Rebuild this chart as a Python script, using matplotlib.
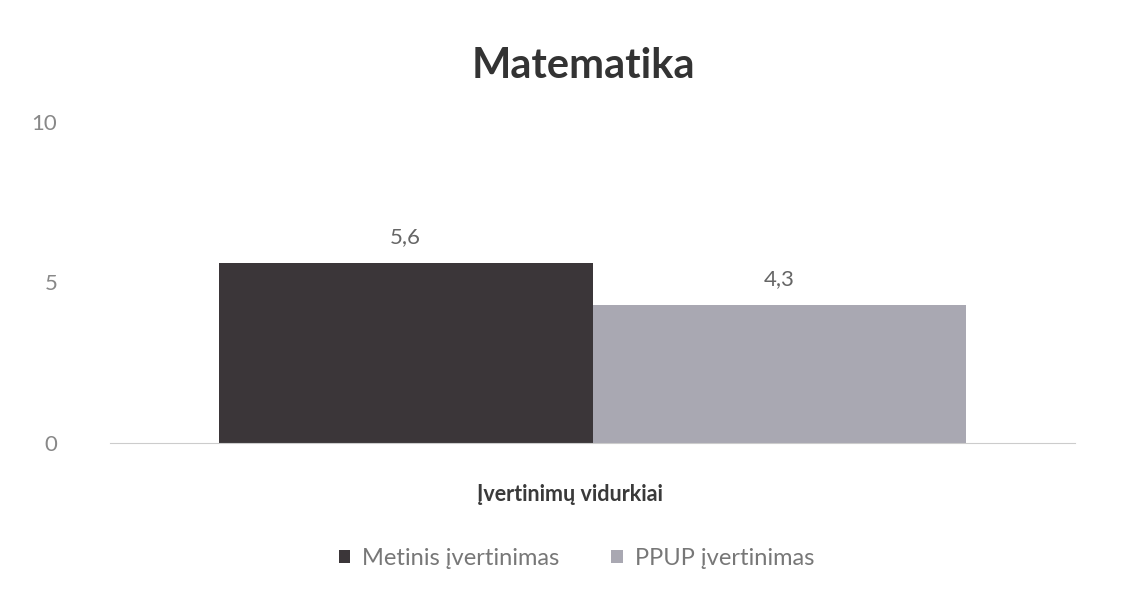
import matplotlib
matplotlib.use('Agg')
import matplotlib.pyplot as plt

plt.rcParams['font.family'] = ['Lato', 'DejaVu Sans']

series = ['Metinis įvertinimas', 'PPUP įvertinimas']
values = [5.6, 4.3]
labels = ['5,6', '4,3']
colors = ['#3b3639', '#a9a8b2']
yticks = [0, 5, 10]

fig = plt.figure(figsize=(11.26, 5.94), dpi=100)
ax = fig.add_axes([0.0977, 0.254, 0.857, 0.541])

width = 0.387
offsets = [-width / 2, width / 2]
for name, val, lab, col, off in zip(series, values, labels, colors, offsets):
    ax.bar(off, val, width=width, color=col, label=name)
    ax.text(off, val + 0.5, lab, ha='center', va='bottom', fontsize=16, color='#666666')

ax.set_xlim(-0.5, 0.5)
ax.set_ylim(0, 10)
ax.set_yticks(yticks)
ax.set_xticks([])
ax.tick_params(axis='y', length=0, pad=38, labelsize=16, labelcolor='#888888')
for s in ['top', 'right', 'left']:
    ax.spines[s].set_visible(False)
ax.spines['bottom'].set_color('#cccccc')

fig.text(0.518, 0.889, 'Matematika', ha='center', va='center', fontsize=30,
         color='#333333', fontweight='bold')
fig.text(0.506, 0.167, 'Įvertinimų vidurkiai', ha='center', va='center', fontsize=15.5,
         color='#3a3a3a', fontweight='bold')

fig.legend(loc='center', bbox_to_anchor=(0.512, 0.06), ncol=2, frameon=False,
           fontsize=17, handlelength=0.5, handleheight=0.5, handletextpad=0.5,
           columnspacing=2.2, labelcolor='#777777')

fig.savefig('out.png', dpi=100)
